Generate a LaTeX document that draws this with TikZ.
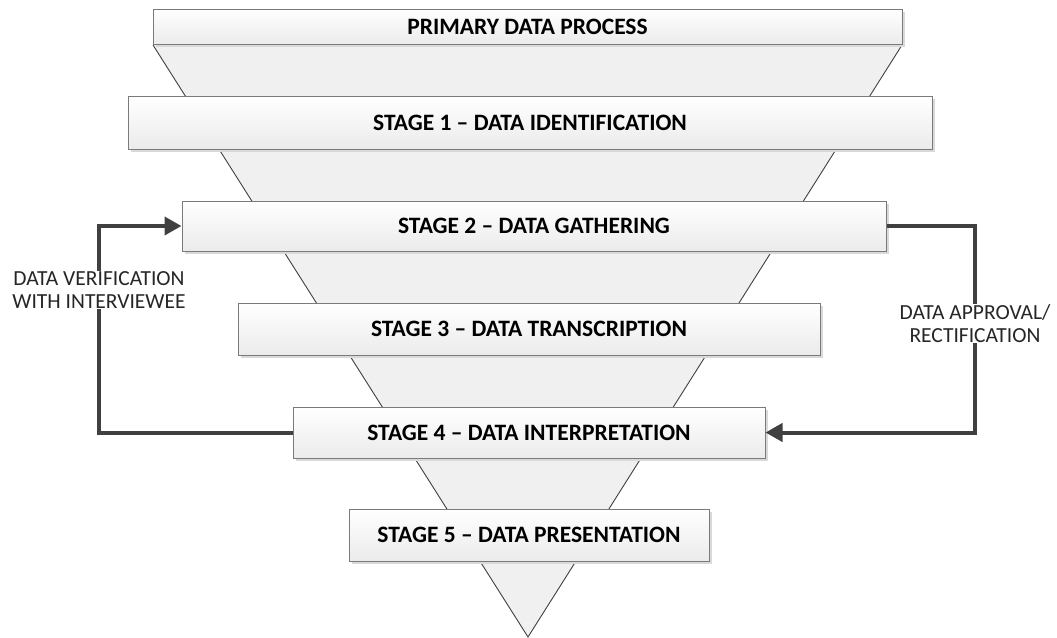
\documentclass[tikz,border=0pt]{standalone}
\usepackage{fontspec}
\setmainfont{Carlito}
\usetikzlibrary{arrows.meta,shadows}
\definecolor{funnelfill}{HTML}{F0F0F0}
\definecolor{edgegray}{HTML}{404040}
\definecolor{boxline}{HTML}{7A7A7A}
\definecolor{boxlow}{HTML}{EBEBEB}
\definecolor{shadowgray}{HTML}{D9D9D9}
\definecolor{connector}{HTML}{404040}
\tikzset{
  stagebox/.style={draw=boxline, line width=1pt, top color=white, bottom color=boxlow,
    drop shadow={shadow xshift=2.5pt, shadow yshift=-2.5pt, fill=shadowgray, opacity=1},
    inner sep=0pt, font=\fontsize{23.5}{26}\selectfont\bfseries, text=black},
  conn/.style={draw=connector, line width=4pt,
    -{Triangle[length=17pt,width=18pt]}},
  sidelabel/.style={fill=white, inner sep=1pt, align=center,
    font=\fontsize{21.5}{22.5}\selectfont, text=black!85},
}
\begin{document}
\begin{tikzpicture}[x=1pt,y=-1pt]
\useasboundingbox (0,0) rectangle (1057,637);

% inverted funnel behind the stages
\coordinate (ftl) at (153,45);
\coordinate (ftr) at (902,45);
\coordinate (fap) at (528,637);
\fill[funnelfill] (ftl) -- (ftr) -- (fap) -- cycle;
\draw[edgegray, line width=0.9pt] (ftl) -- (fap) -- (ftr);

% stage bars
\node[stagebox, minimum width=749pt, minimum height=35pt] (b0) at (527.5,26.5) {PRIMARY DATA PROCESS};
\node[stagebox, minimum width=804pt, minimum height=53pt] (b1) at (530,122.5) {STAGE 1 – DATA IDENTIFICATION};
\node[stagebox, minimum width=704pt, minimum height=50pt] (b2) at (534,226) {STAGE 2 – DATA GATHERING};
\node[stagebox, minimum width=582pt, minimum height=52pt] (b3) at (529,329) {STAGE 3 – DATA TRANSCRIPTION};
\node[stagebox, minimum width=472pt, minimum height=51pt] (b4) at (529,432.5) {STAGE 4 – DATA INTERPRETATION};
\node[stagebox, minimum width=360pt, minimum height=52pt] (b5) at (529,535) {STAGE 5 – DATA PRESENTATION};

% feedback loops
\coordinate (lbot) at (99,432.5);
\coordinate (ltop) at (99,226);
\coordinate (rtop) at (975,226);
\coordinate (rbot) at (975,432.5);
\draw[conn] (b4.west) -- (lbot) -- (ltop) -- (b2.west);
\draw[conn] (b2.east) -- (rtop) -- (rbot) -- (b4.east);

\node[sidelabel] (lv) at (99,290) {DATA VERIFICATION\\WITH INTERVIEWEE};
\node[sidelabel] (ra) at (975,323.5) {DATA APPROVAL/\\RECTIFICATION};
\end{tikzpicture}
\end{document}
